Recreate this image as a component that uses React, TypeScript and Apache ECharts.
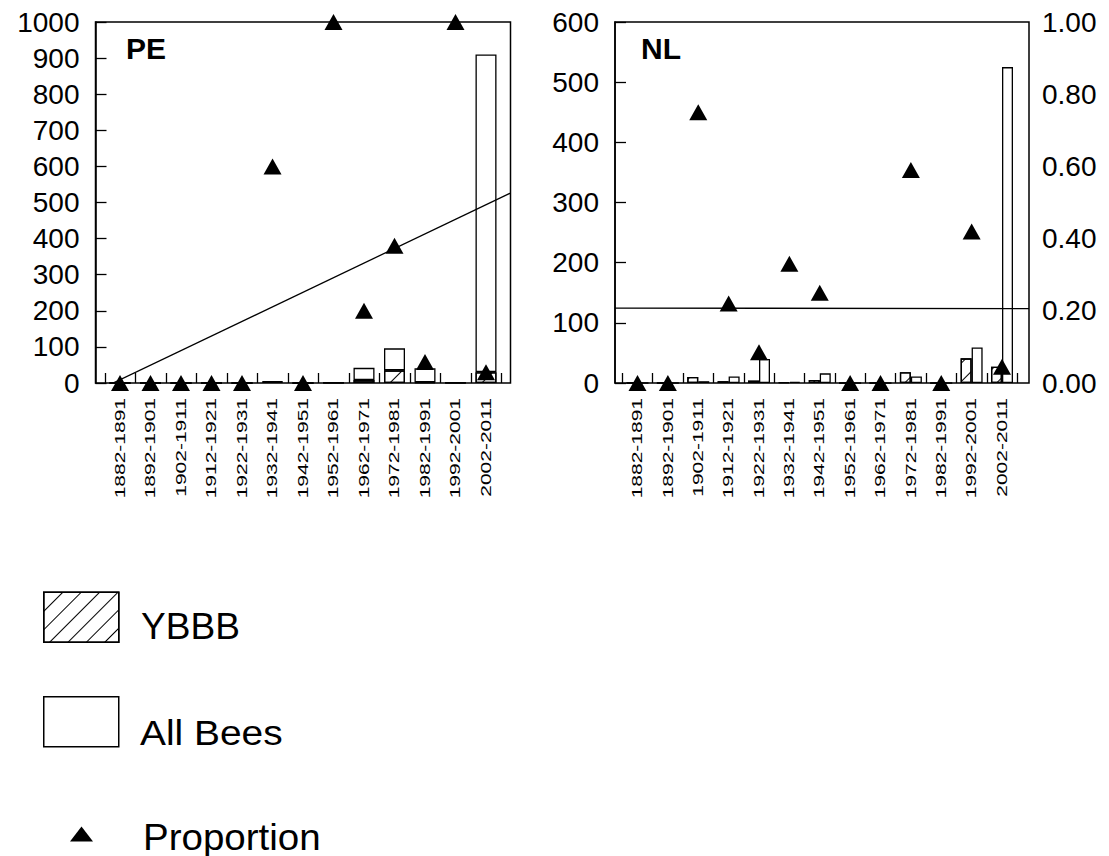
import React, { useEffect, useRef } from "react";
import * as echarts from "echarts";

// ---------- data ----------
const categories = [
  "1882-1891", "1892-1901", "1902-1911", "1912-1921", "1922-1931", "1932-1941",
  "1942-1951", "1952-1961", "1962-1971", "1972-1981", "1982-1991", "1992-2001", "2002-2011",
];

// PE panel (stacked bars)
const peYBBB = [0, 0, 0, 0, 0, 3, 0, 1, 8, 35, 2, 1, 30];
const peAllBees = [0, 0, 0, 0, 0, 2, 0, 0, 34, 61, 39, 0, 880];
const peProportion = [0, 0, 0, 0, 0, 0.6, 0, 1, 0.2, 0.38, 0.058, 1, 0.03];

// NL panel (side-by-side bars)
const nlYBBB = [0, 0, 10, 3, 4, 1, 5, 0, 0, 18, 0, 41, 27];
const nlAllBees = [0, 0, 3, 11, 40, 2, 16, 0, 0, 11, 0, 59, 525];
const nlProportion = [0, 0, 0.75, 0.22, 0.085, 0.33, 0.25, 0, 0, 0.59, 0, 0.42, 0.045];

const peCountMax = 1000;
const nlCountMax = 600;
const countInterval = 100;
const proportionMax = 1;
const proportionInterval = 0.2;

const legendNames = ["YBBB", "All Bees", "Proportion"];

// ---------- layout / style ----------
const FONT = '"Liberation Sans", Arial, Helvetica, sans-serif';
const TOP = 22;
const HEIGHT = 361;
const PANELS = [
  { key: "PE", boxLeft: 95.5, boxWidth: 415, firstCenter: 120, lastCenter: 486, labelX: 126 },
  { key: "NL", boxLeft: 615, boxWidth: 414, firstCenter: 637.5, lastCenter: 1002, labelX: 641 },
];
const LEGEND_POS = [
  { left: 43, top: 591.5, w: 75, h: 50, icon: "rect", textX: 141, textY: 627, sx: 1.03 },
  { left: 43, top: 696, w: 75, h: 50, icon: "rect", textX: 140, textY: 733, sx: 1.08 },
  { left: 70, top: 826.5, w: 23, h: 15, icon: "triangle", textX: 143, textY: 837, sx: 1.07 },
];

function linearFit(ys: number[]) {
  const n = ys.length;
  let mx = 0, my = 0;
  ys.forEach((y, i) => { mx += i; my += y; });
  mx /= n; my /= n;
  let sxy = 0, sxx = 0;
  ys.forEach((y, i) => { sxy += (i - mx) * (y - my); sxx += (i - mx) * (i - mx); });
  const slope = sxy / sxx;
  const intercept = my - slope * mx;
  return (x: number) => intercept + slope * x;
}

const hatch = {
  color: "#fff",
  borderColor: "#000",
  borderWidth: 1.3,
  opacity: 1,
  decal: {
    symbol: "rect",
    symbolSize: 1,
    dashArrayX: [1, 0],
    dashArrayY: [1, 12],
    rotation: -Math.PI / 4,
    color: "#000",
    backgroundColor: "#fff",
  },
};
const plain = { color: "#fff", borderColor: "#000", borderWidth: 1.3, opacity: 1 };

function buildOption() {
  const grids: any[] = [];
  const xAxes: any[] = [];
  const yAxes: any[] = [];
  const series: any[] = [];

  PANELS.forEach((p, pi) => {
    const band = (p.lastCenter - p.firstCenter) / (categories.length - 1);
    const xmin = -(p.firstCenter - p.boxLeft) / band;
    const xmax = categories.length - 1 + (p.boxLeft + p.boxWidth - p.lastCenter) / band;
    const isPE = p.key === "PE";
    const countMax = isPE ? peCountMax : nlCountMax;
    const g0 = pi * 2;
    const g1 = pi * 2 + 1;

    grids.push({
      left: p.boxLeft, top: TOP, width: p.boxWidth, height: HEIGHT,
      show: true, borderColor: "#000", borderWidth: 1.5, backgroundColor: "transparent",
    });
    grids.push({
      left: p.firstCenter - band / 2, top: TOP, width: band * categories.length, height: HEIGHT,
    });

    // outer value x axis (for the trend line)
    xAxes.push({ type: "value", gridIndex: g0, min: xmin, max: xmax, show: false });
    // inner category x axis (bars, points, ticks)
    xAxes.push({
      type: "category", gridIndex: g1, data: categories, position: "bottom",
      axisLine: { show: false },
      axisTick: { show: true, inside: true, length: 10, interval: 0, lineStyle: { color: "#000", width: 1.3 } },
      axisLabel: { show: false },
      splitLine: { show: false },
    });

    const labelStyle = {
      fontFamily: FONT, fontSize: 28, color: "#000", padding: [8, 0, 0, 0],
    };
    // outer count axis (visible left)
    yAxes.push({
      type: "value", gridIndex: g0, min: 0, max: countMax, interval: countInterval, position: "left",
      axisLine: { show: true, onZero: false, lineStyle: { color: "#000", width: 1.5 } },
      axisTick: { show: true, inside: true, length: 11, lineStyle: { color: "#000", width: 1.3 } },
      axisLabel: { ...labelStyle, margin: 16, formatter: (v: number) => String(v) },
      splitLine: { show: false },
    });
    // outer proportion axis
    yAxes.push({
      type: "value", gridIndex: g0, min: 0, max: proportionMax, interval: proportionInterval, position: "right",
      show: !isPE,
      axisLine: { show: false, onZero: false },
      axisTick: { show: false },
      axisLabel: { ...labelStyle, margin: 13, formatter: (v: number) => v.toFixed(2) },
      splitLine: { show: false },
    });
    // inner hidden axes
    yAxes.push({ type: "value", gridIndex: g1, min: 0, max: countMax, show: false, splitLine: { show: false } });
    yAxes.push({ type: "value", gridIndex: g1, min: 0, max: proportionMax, show: false, splitLine: { show: false } });

    const xo = pi * 2, xi = pi * 2 + 1;
    const yo = pi * 4;
    const ybbb = isPE ? peYBBB : nlYBBB;
    const all = isPE ? peAllBees : nlAllBees;
    const prop = isPE ? peProportion : nlProportion;

    if (isPE) {
      series.push({ name: legendNames[0], type: "bar", xAxisIndex: xi, yAxisIndex: yo + 2, stack: "pe", barWidth: 21, data: ybbb, itemStyle: hatch, z: 2 });
      series.push({ name: legendNames[1], type: "bar", xAxisIndex: xi, yAxisIndex: yo + 2, stack: "pe", barWidth: 21, data: all, itemStyle: plain, z: 2 });
    } else {
      series.push({ name: legendNames[0], type: "bar", xAxisIndex: xi, yAxisIndex: yo + 2, barWidth: 11, barGap: "0%", data: ybbb, itemStyle: hatch, z: 2 });
      series.push({ name: legendNames[1], type: "bar", xAxisIndex: xi, yAxisIndex: yo + 2, barWidth: 11, barGap: "0%", data: all, itemStyle: plain, z: 2 });
    }
    series.push({
      name: legendNames[2], type: "scatter", xAxisIndex: xi, yAxisIndex: yo + 3, data: prop,
      symbol: "triangle", symbolSize: [18, 16], itemStyle: { color: "#000", opacity: 1 }, clip: false, z: 5,
    });
    const f = linearFit(prop);
    series.push({
      name: p.key + " trend", type: "line", xAxisIndex: xo, yAxisIndex: yo + 1,
      data: [[xmin, f(xmin)], [xmax, f(xmax)]], symbol: "none", clip: true,
      lineStyle: { color: "#000", width: 1.3 }, z: 6,
    });
  });

  const legends = legendNames.map((name, i) => {
    const L = LEGEND_POS[i];
    return {
      data: [{ name, icon: L.icon }],
      left: L.left, top: L.top, padding: 0, itemWidth: L.w, itemHeight: L.h,
      selectedMode: false,
      formatter: () => "",
      itemStyle: i < 2 ? { borderColor: "#000", borderWidth: 1.5 } : { color: "#000", opacity: 1 },
      textStyle: { fontSize: 1 },
    };
  });

  return {
    animation: false,
    backgroundColor: "#fff",
    grid: grids,
    xAxis: xAxes,
    yAxis: yAxes,
    legend: legends,
    series,
  };
}

function buildGraphic(chart: any) {
  const els: any[] = [];
  PANELS.forEach((p, pi) => {
    const xi = pi * 2 + 1;
    const yo = pi * 4;
    const baseY = chart.convertToPixel({ yAxisIndex: yo }, 0);
    categories.forEach((c) => {
      const x = chart.convertToPixel({ xAxisIndex: xi }, c);
      els.push({
        type: "text", x, y: baseY + 15, rotation: Math.PI / 2, scaleX: 1.5,
        style: { text: c, fontFamily: FONT, fontSize: 14, fill: "#000", align: "right", verticalAlign: "middle" },
      });
    });
    els.push({
      type: "text", x: p.labelX, y: 48,
      style: { text: p.key, fontFamily: FONT, fontSize: 30, fontWeight: "bold", fill: "#000", align: "left", verticalAlign: "middle" },
    });
  });
  legendNames.forEach((name, i) => {
    const L = LEGEND_POS[i];
    els.push({
      type: "text", x: L.textX, y: L.textY, scaleX: L.sx,
      style: { text: name, fontFamily: FONT, fontSize: 36, fill: "#000", align: "left", verticalAlign: "middle" },
    });
  });
  return els;
}

export default function App() {
  const ref = useRef<HTMLDivElement>(null);
  useEffect(() => {
    const chart = echarts.init(ref.current as HTMLDivElement, null, { renderer: "svg" });
    chart.setOption(buildOption() as any);
    chart.setOption({ graphic: buildGraphic(chart) } as any);
    return () => chart.dispose();
  }, []);
  return (
    <div
      ref={ref}
      style={{ position: "fixed", left: 0, top: 0, width: 1109, height: 856, background: "#fff" }}
    />
  );
}
